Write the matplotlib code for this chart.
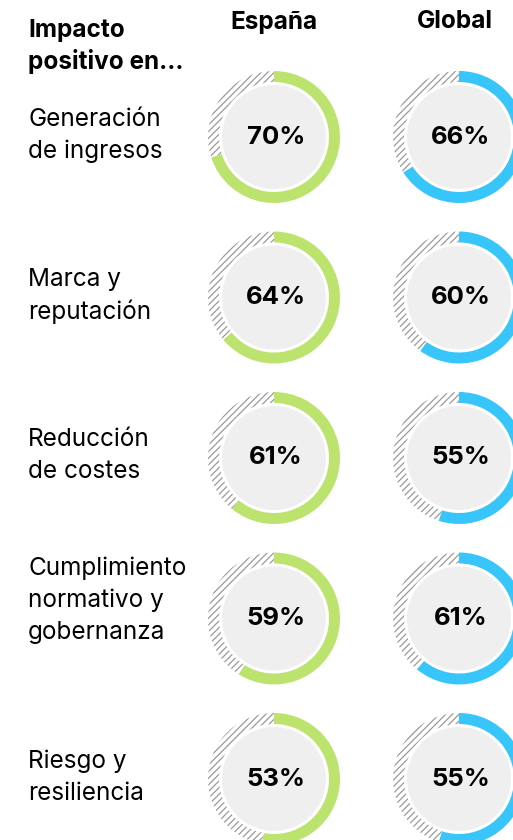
import matplotlib
matplotlib.use('Agg')
import matplotlib.pyplot as plt
from matplotlib.patches import Wedge, Circle

plt.rcParams['font.family'] = ['Inter', 'DejaVu Sans']
plt.rcParams['hatch.linewidth'] = 0.9

categories = [
    'Generación\nde ingresos',
    'Marca y\nreputación',
    'Reducción\nde costes',
    'Cumplimiento\nnormativo y\ngobernanza',
    'Riesgo y\nresiliencia',
]
espana = [70, 64, 61, 59, 53]
global_vals = [66, 60, 55, 61, 55]
col_titles = ['España', 'Global']
row_title = 'Impacto\npositivo en...'

GREEN = '#BDE36F'
BLUE = '#38C6FA'
INNER = '#EFEFEF'
HATCH = '#9A9A9A'

H = 840
fig = plt.figure(figsize=(5.13, 8.40), dpi=100)
ax = fig.add_axes([0, 0, 1, 1])
ax.set_xlim(0, 513)
ax.set_ylim(0, H)
ax.set_aspect('equal')
ax.axis('off')

r_out, ring_w, r_in = 66, 11, 52
col_x = [274, 459]
row_y0, row_step = 137, 160.5


def donut(cx, cy, pct, color):
    # cy is measured from the top, flip for the axes
    y = H - cy
    end = 90 - 360 * pct / 100
    ax.add_patch(Wedge((cx, y), r_out, end, 90, width=ring_w,
                       facecolor=color, edgecolor='none'))
    ax.add_patch(Wedge((cx, y), r_out, 90, end + 360, width=ring_w,
                       facecolor='white', edgecolor=HATCH, hatch='/////',
                       linewidth=0))
    ax.add_patch(Circle((cx, y), r_in, facecolor=INNER, edgecolor='none'))
    ax.text(cx + 2, y, f'{pct}%', ha='center', va='center',
            fontsize=18.5, fontweight='bold', color='black')


for i, (lab, e, g) in enumerate(zip(categories, espana, global_vals)):
    cy = row_y0 + row_step * i
    donut(col_x[0], cy, e, GREEN)
    donut(col_x[1], cy, g, BLUE)
    lines = lab.split('\n')
    top = cy - 18 if len(lines) == 2 else cy - 50
    for j, line in enumerate(lines):
        ax.text(28, H - (top + 32 * j), line, ha='left', va='center',
                fontsize=17.5, color='black')

for x, t in zip([274, 455], col_titles):
    ax.text(x, H - 22, t, ha='center', va='center', fontsize=17.5,
            fontweight='bold', color='black')

for j, line in enumerate(row_title.split('\n')):
    ax.text(28, H - (30 + 32 * j), line, ha='left', va='center', fontsize=17.5,
            fontweight='bold', color='black')

fig.savefig('out.png', dpi=100, facecolor='white')
